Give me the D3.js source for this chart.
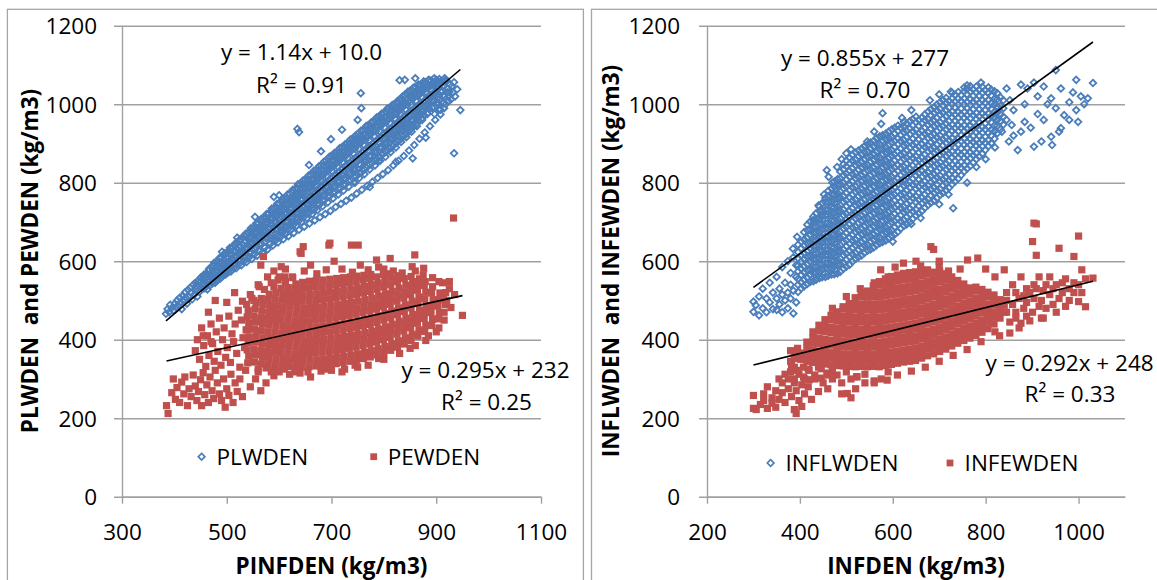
<!DOCTYPE html>
<html><head><meta charset="utf-8">
<script src="https://cdn.jsdelivr.net/npm/d3@7/dist/d3.min.js"></script>
<style>body{margin:0;background:#fff}svg text{font-family:'Open Sans',sans-serif;fill:#000}</style>
</head><body><svg id="c" width="1157" height="580"></svg>
<script>
// ---------- tick labels ----------
const yTicks=[0,200,400,600,800,1000,1200];
const leftXTicks=[300,500,700,900,1100];
const rightXTicks=[200,400,600,800,1000];
// ---------- series names ----------
const leftNames=["PLWDEN","PEWDEN"];
const rightNames=["INFLWDEN","INFEWDEN"];
// ---------- trendline fits (from the chart's equations) ----------
const leftSlopes=[1.14,0.295], leftIntercepts=[10.0,232];
const rightSlopes=[0.855,0.292], rightIntercepts=[277,248];
const leftEq=["y = 1.14x + 10.0","y = 0.295x + 232"], leftR2=["R² = 0.91","R² = 0.25"];
const rightEq=["y = 0.855x + 277","y = 0.292x + 248"], rightR2=["R² = 0.70","R² = 0.33"];
// ---------- data: rows of [x, y1, y2, ...] ----------
const plwden=[[384,466],[387,478],[390,470],[392,489],[395,481],[398,474],[401,492],[403,483],[405,500],[408,486],[410,507],[412,495],[414,478],[416,512],[418,498],[420,520],[422,507],[424,492],[426,527],[428,509],[430,532],[432,519],[434,503],[436,540],[438,515],[440,545],[441,536],[442,528],[444,510],[446,550],[448,522],[450,558],[451,548],[452,540],[454,530],[456,565],
[458,531],[460,566],[462,552],[464,540],[466,580],[461,558],[463,528],[468,538],[470,585],[472,563],[474,550],[476,596],[471,572],[473,544],[478,545],[480,598],[482,575],[484,560],[486,608],[481,585],[483,552],[488,556],[490,610],[492,586],[494,570],[496,620],[491,596],[493,563],[489,578],
[498,566],[500,622],[502,596],[504,580],[506,634],[501,608],[503,572],[499,588],[508,574],[510,634],[512,606],[514,590],[516,645],[511,618],[513,582],[509,598],[515,626],[518,582],[520,646],[522,618],[524,600],[526,657],[521,630],[523,592],[519,610],[525,638],
[528,590],[530,660],[532,628],[534,610],[536,670],[531,642],[533,600],[529,620],[535,650],[538,598],[540,672],[542,640],[544,620],[546,684],[541,655],[543,610],[539,632],[545,664],
[548,606],[550,684],[552,652],[554,630],[556,696],[551,666],[553,618],[549,642],[555,676],[547,660],[558,614],[560,697],[562,662],[564,640],[566,708],[561,678],[563,626],[559,652],[565,688],[557,670],
[568,622],[570,710],[572,674],[574,650],[576,720],[571,690],[573,635],[569,663],[575,700],[567,682],[578,630],[580,722],[582,686],[584,660],[586,734],[581,702],[583,644],[579,674],[585,712],[577,694],[587,655],
[588,640],[590,735],[592,698],[594,670],[596,746],[591,715],[593,652],[589,686],[595,724],[587,706],[597,664],[598,648],[600,746],[602,708],[604,680],[606,758],[601,726],[603,662],[599,696],[605,736],[597,716],[607,674],
[608,656],[610,760],[612,720],[614,690],[616,770],[611,738],[613,670],[609,707],[615,748],[607,728],[617,682],[618,664],[620,772],[622,732],[624,700],[626,782],[621,750],[623,680],[619,718],[625,760],[617,740],[627,692],
[628,672],[630,784],[632,744],[634,712],[636,796],[631,762],[633,690],[629,730],[635,772],[627,752],[637,702],[638,680],[640,796],[642,756],[644,722],[646,806],[641,774],[643,700],[639,742],[645,784],[637,764],[647,712],
[648,688],[650,808],[652,768],[654,734],[656,818],[651,786],[653,710],[649,752],[655,796],[647,776],[657,722],[658,696],[660,820],[662,780],[664,744],[666,830],[661,798],[663,720],[659,764],[665,808],[657,788],[667,732],[661,754],
[668,704],[670,832],[672,792],[674,756],[676,842],[671,810],[673,730],[669,776],[675,820],[667,800],[677,744],[671,766],[678,712],[680,844],[682,804],[684,768],[686,854],[681,822],[683,740],[679,788],[685,832],[677,812],[687,756],[681,778],
[688,720],[690,856],[692,816],[694,778],[696,866],[691,834],[693,750],[689,798],[695,844],[687,824],[697,766],[691,790],[698,728],[700,868],[702,828],[704,790],[706,876],[701,846],[703,760],[699,810],[705,856],[697,836],[707,776],[701,800],
[708,738],[710,878],[712,840],[714,800],[716,888],[711,858],[713,770],[709,822],[715,866],[707,848],[717,786],[711,812],[718,746],[720,890],[722,852],[724,812],[726,898],[721,870],[723,780],[719,834],[725,878],[717,860],[727,796],[721,822],
[728,754],[730,900],[732,862],[734,822],[736,910],[731,880],[733,790],[729,844],[735,890],[727,870],[737,806],[731,834],[738,762],[740,912],[742,874],[744,834],[746,920],[741,892],[743,800],[739,856],[745,900],[737,882],[747,816],[741,846],
[748,772],[750,924],[752,886],[754,846],[756,932],[751,904],[753,812],[749,866],[755,912],[747,894],[757,826],[751,856],[758,782],[760,934],[762,896],[764,856],[766,944],[761,914],[763,822],[759,878],[765,924],[757,904],[767,838],[761,868],
[768,792],[770,946],[772,908],[774,868],[776,954],[771,926],[773,834],[769,890],[775,936],[767,916],[777,850],[771,880],[778,802],[780,956],[782,918],[784,878],[786,966],[781,936],[783,844],[779,900],[785,946],[777,928],[787,860],[781,890],
[788,812],[790,968],[792,930],[794,890],[796,976],[791,948],[793,856],[789,912],[795,958],[787,940],[797,872],[791,902],[798,822],[800,978],[802,940],[804,900],[806,988],[801,958],[803,866],[799,924],[805,968],[797,950],[807,882],[801,912],
[808,832],[810,990],[812,952],[814,912],[816,998],[811,970],[813,878],[809,934],[815,980],[807,960],[817,894],[811,922],[818,844],[820,1000],[822,962],[824,924],[826,1008],[821,980],[823,890],[819,946],[825,990],[817,972],[827,906],[821,934],
[828,856],[830,1012],[832,974],[834,936],[836,1020],[831,992],[833,904],[829,958],[835,1002],[827,984],[837,918],[831,946],[838,868],[840,1024],[842,986],[844,948],[846,1032],[841,1004],[843,916],[839,970],[845,1014],[837,996],[847,930],[841,958],
[848,882],[850,1034],[852,998],[854,960],[856,1042],[851,1016],[853,930],[849,980],[855,1024],[847,1006],[857,944],[851,970],[858,896],[860,1044],[862,1008],[864,972],[866,1050],[861,1026],[863,944],[859,990],[865,1034],[857,1016],[867,958],[861,982],
[868,912],[870,1050],[872,1018],[874,984],[876,1058],[871,1034],[873,960],[869,1000],[875,1042],[867,1024],[877,972],[878,928],[880,1056],[882,1028],[884,996],[886,1062],[881,1042],[883,975],[879,1010],[885,1048],[877,1036],[887,988],
[888,944],[890,1060],[892,1036],[894,1008],[896,1066],[891,1048],[893,990],[889,1020],[895,1054],[897,975],[898,960],[900,1062],[902,1042],[904,1018],[906,1064],[901,1052],[903,1000],[899,1030],[905,986],
[908,974],[910,1058],[912,1044],[914,1024],[916,1066],[911,1034],[913,1002],[915,990],[918,1000],[920,1060],[922,1040],[924,1020],[926,1050],[921,1030],[923,1008],[928,1012],[930,1046],[932,1030],[934,1056],[936,1020],
[455,538,553,561],[465,548,563,575],[475,557,570,588],[485,566,581,597],[495,575,593,605,616],[505,586,601,617,628],[515,594,613,627,641],[525,604,623,639,653],[535,616,633,652,665],[545,625,646,661,677],
[555,637,655,673,687],[565,646,668,683,701],[575,658,677,697,711],[585,667,691,707,727],[595,678,699,719,737],[605,687,713,729,751],[615,699,721,743,761],[625,707,734,752,775],[635,719,743,765,785],[645,727,756,775,797],
[655,741,765,788,807],[665,749,777,797,821],[675,761,785,811,831],[685,769,798,820,843],[695,781,807,833,853],[705,791,819,843,867],[715,803,829,855,877],[725,811,841,865,889],[735,823,851,878,899],[745,831,863,887,911],
[755,845,873,901,921],[765,853,885,909,935],[775,865,895,923,945],[785,875,907,931,957],[795,887,917,945,967],[805,897,929,955,979],[815,909,939,967,989],[825,919,951,977,1001],[835,931,961,991,1011],[845,941,975,999,1025],
[855,956,985,1013,1035],[865,967,997,1021,1047],[875,981,1007,1035,1053],[885,991,1021,1043,1061],[895,1005,1029,1051],[905,1011,1041,1057],[915,1019,1047],[925,1031],
[603,675,690],[613,686,700],[623,695,712],[633,706,722],[643,716,732],[653,726,744],[663,736,754],[673,746,764],[683,755,775],[693,764,786],[703,774,796],[713,784,806],[723,794,818],[733,804,828],[743,814,838],[753,824,848],
[763,834,860],[773,846,870],[783,856,882],[793,866,892],[803,878,904],[813,888,916],[823,900,928],[833,912,940],[843,924,950],[853,938,962],[863,950,976],[873,964,988],[883,976,1000],[893,990,1012],[903,1004,1026],
[756,1028],[757,990],[699,911],[657,845],[590,764],[554,713],[491,624],[773,789],[855,862],[934,875],[823,853],[908,986],[946,985],[635,937],[638,929],[830,1061],[840,1062],[860,1066],[750,960],[720,935],[680,880],[940,1038],[918,1062],[880,915],[790,855],[745,800],[600,768],[520,660]];

const pewden=[[385,232],[388,212],[395,265],[398,300],[402,248],[405,278],[410,240],[414,292],[418,262],[420,305],[425,232],[428,275],[432,255],[436,310],[440,282],[443,245],[446,268],[450,298],[452,232],[455,316],[458,260],[462,285],[465,240],[468,305],[472,270],[475,250],[478,322],[482,290],[486,262],[490,245],[494,300],[497,228],[500,275],[504,258],[508,312],[512,240],[516,290],[520,268],[525,300],[530,255],[536,322],[545,280],[555,300],[565,270],[575,290],[560,318],[585,318],[590,308],
[440,372],[444,400],[448,350],[452,430],[456,385],[460,332],[463,410],[466,360],[470,440],[473,390],[476,345],[480,420],[483,370],[486,455],[489,335],[492,400],[495,430],[498,355],[501,380],[504,460],[507,342],[510,415],[513,395],[516,440],[519,365],[522,475],[525,330],[528,450],[531,405],[534,380],[537,425],[465,470],[478,500],[500,495],[515,520],[470,395],[455,410],
[540,341],[542,358],[539,374],[541,392],[543,407],[540,425],[542,441],[539,458],[541,474],
[553,343],[555,361],[552,376],[554,394],[556,410],[553,427],[555,445],[552,460],[554,478],[556,494],
[566,338],[568,355],[565,372],[567,389],[569,405],[566,423],[568,440],[565,456],[567,473],[569,490],[566,505],
[579,336],[581,352],[578,370],[580,386],[582,403],[579,420],[581,437],[578,454],[580,470],[582,487],[579,503],[581,516],
[592,335],[594,351],[591,368],[593,385],[595,402],[592,419],[594,436],[591,452],[593,469],[595,486],[592,503],[594,520],
[605,334],[607,350],[604,367],[606,384],[608,400],[605,417],[607,434],[604,451],[606,468],[608,484],[605,501],[607,517],[604,531],
[618,332],[620,349],[617,366],[619,383],[621,399],[618,416],[620,433],[617,450],[619,466],[621,483],[618,500],[620,516],[617,533],
[631,330],[633,347],[630,364],[632,381],[634,398],[631,414],[633,431],[630,448],[632,465],[634,482],[631,498],[633,515],[630,532],[632,542],
[644,330],[646,347],[643,364],[645,380],[647,397],[644,414],[646,431],[643,448],[645,464],[647,481],[644,498],[646,514],[643,531],[645,546],
[657,331],[659,348],[656,365],[658,381],[660,398],[657,415],[659,432],[656,448],[658,465],[660,482],[657,499],[659,515],[656,532],[658,549],
[670,333],[672,349],[669,366],[671,383],[673,400],[670,416],[672,433],[669,450],[671,467],[673,483],[670,500],[672,517],[669,534],[671,551],
[683,335],[685,351],[682,368],[684,385],[686,401],[683,418],[685,435],[682,452],[684,468],[686,485],[683,502],[685,519],[682,535],[684,552],
[696,337],[698,353],[695,370],[697,387],[699,403],[696,420],[698,437],[695,454],[697,470],[699,487],[696,504],[698,521],[695,537],[697,554],
[709,339],[711,356],[708,372],[710,389],[712,406],[709,422],[711,439],[708,456],[710,473],[712,489],[709,506],[711,523],[708,540],[710,556],
[722,342],[724,358],[721,375],[723,392],[725,408],[722,425],[724,442],[721,459],[723,475],[725,492],[722,509],[724,526],[721,542],[723,558],
[735,345],[737,361],[734,378],[736,395],[738,411],[735,428],[737,445],[734,462],[736,478],[738,495],[735,512],[737,529],[734,545],[736,560],
[748,348],[750,364],[747,381],[749,398],[751,414],[748,431],[750,448],[747,465],[749,481],[751,498],[748,515],[750,532],[747,548],[749,562],
[761,352],[763,368],[760,385],[762,402],[764,418],[761,435],[763,452],[760,469],[762,485],[764,502],[761,519],[763,536],[760,552],[762,564],
[774,356],[776,372],[773,389],[775,406],[777,422],[774,439],[776,456],[773,473],[775,489],[777,506],[774,523],[776,540],[773,556],[775,566],
[787,361],[789,377],[786,394],[788,411],[790,427],[787,444],[789,461],[786,478],[788,494],[790,511],[787,528],[789,545],[786,560],
[800,367],[802,383],[799,400],[801,417],[803,433],[800,450],[802,467],[799,484],[801,500],[803,517],[800,534],[802,551],[799,566],
[813,373],[815,389],[812,406],[814,423],[816,439],[813,456],[815,473],[812,490],[814,506],[816,523],[813,540],[815,557],[812,568],
[826,381],[828,397],[825,414],[827,431],[829,447],[826,464],[828,481],[825,498],[827,514],[829,531],[826,548],[828,563],
[839,389],[841,405],[838,422],[840,439],[842,455],[839,472],[841,489],[838,506],[840,522],[842,539],[839,556],
[852,398],[854,414],[851,431],[853,448],[855,464],[852,481],[854,498],[851,515],[853,531],[855,548],[852,561],
[865,409],[867,425],[864,442],[866,459],[868,475],[865,492],[867,509],[864,526],[866,542],[868,555],
[878,421],[880,437],[877,454],[879,471],[881,487],[878,504],[880,521],[877,538],[879,548],
[891,436],[893,452],[890,469],[892,486],[894,502],[891,519],[893,535],
[904,453],[906,469],[903,486],[905,502],[907,519],[915,470],[917,490],[914,505],[918,520],
[565,590],[570,612],[578,560],[590,575],[600,560],[604,586],[611,560],[612,580],[625,560],[640,624],[646,637],[642,620],[648,575],[660,590],[672,568],[690,578],[697,646],[695,641],[705,600],[720,580],[738,641],[751,641],[740,572],[755,590],[770,578],[786,603],[790,585],[812,607],[800,580],[818,575],[835,570],[854,586],[859,616],[876,582],[860,575],[875,565],[893,558],[905,548],[925,548],[933,710],[950,462],[562,535],[590,535],[530,498],[545,515],
[548,505],[560,540],[572,528],[585,545],[598,552],[612,548],[626,558],[538,490],[552,500],[920,500],[925,530],[928,482],[935,515],[912,545],
[600,318],[620,312],[640,315],[660,305],[680,320],[700,322],[725,325],[750,330],[770,335],[800,350],[830,365],[860,385],[885,410],[900,420],[610,325],[575,328],[720,318],[655,318],
[560,325],[590,322],[630,318],[690,325],[745,335],[790,352],[850,378],[880,398],[905,430],[915,450]];

const inflwden=[[300,471,497],[305,488],[312,462,510],[320,480,530],[328,470,505],[335,495,545],[342,478,520],[350,476,560,505],[356,490,530],[362,515,470,585],[368,500,545],[374,520,600,480],[380,540,505,570],[386,467,525,610],[392,495,560,590],
[396,522,540,555,574,589,608,623,642],
[409,536,553,572,587,606,621,640,655,674],
[422,547,565,580,599,614,633,648,667,682,701],
[435,553,571,586,605,620,639,654,673,688,707,722],
[448,559,578,593,612,627,646,661,680,695,714,729,748],
[461,563,581,596,615,630,649,664,683,698,717,732,751,766,779],
[474,567,586,601,620,635,654,669,688,703,722,737,756,771,790,803],
[487,573,592,607,626,641,660,675,694,709,728,743,762,777,796,811,828],
[500,586,604,619,638,653,672,687,706,721,740,755,774,789,808,823,842,856],
[513,599,618,633,652,667,686,701,720,735,754,769,788,803,822,837,856,871],
[526,610,629,644,663,678,697,712,731,746,765,780,799,814,833,848,867,882],
[539,621,640,655,674,689,708,723,742,757,776,791,810,825,844,859,878,893],
[552,630,649,664,683,698,717,732,751,766,785,800,819,834,853,868,887,902],
[565,641,660,675,694,709,728,743,762,777,796,811,830,845,864,879,898,913],
[578,649,668,683,702,717,736,751,770,785,804,819,838,853,872,887,906,921],
[591,658,677,692,711,726,745,760,779,794,813,828,847,862,881,896,915,930],
[604,668,687,702,721,736,755,770,789,804,823,838,857,872,891,906,925,940],
[617,683,702,717,736,751,770,785,804,819,838,853,872,887,906,921,940],
[630,694,713,728,747,762,781,796,815,830,849,864,883,898,917,932,951],
[643,708,727,742,761,776,795,810,829,844,863,878,897,912,931,946,962],
[656,722,741,756,775,790,809,824,843,858,877,892,911,926,945,960],
[669,736,755,770,789,804,823,838,857,872,891,906,925,940,959,974],
[682,749,768,783,802,817,836,851,870,885,904,919,938,953,972,987],
[695,761,780,795,814,829,848,863,882,897,916,931,950,965,984,999],
[708,774,793,808,827,842,861,876,895,910,929,944,963,978,997,1011],
[721,787,806,821,840,855,874,889,908,923,942,957,976,991,1008],
[734,803,822,837,856,871,890,905,924,939,958,973,992,1007,1024],
[747,819,838,853,872,887,906,921,940,955,974,989,1008,1023],
[760,836,855,870,889,904,923,938,957,972,991,1006,1025,1039],
[773,851,870,885,904,919,938,953,972,987,1006,1021,1038],
[786,867,886,901,920,935,954,969,988,1003,1022,1037],
[799,883,902,917,936,951,970,985,1004,1019,1036],
[812,901,920,935,954,969,988,1003,1022,1037],
[825,926,945,960,979,994,1013,1028],
[838,948,968,990,1010],
[403,531,546,565,580,599,614,633,650],
[416,542,558,577,592,611,626,645,660,679,693],
[429,549,569,584,603,618,637,652,671,686,705,714],
[442,557,573,592,607,626,641,660,675,694,709,728,739],
[455,560,580,595,614,629,648,663,682,697,716,731,750,761],
[468,566,582,601,616,635,650,669,684,703,718,737,752,771,785],
[481,569,589,604,623,638,657,672,691,706,725,740,759,774,793,809],
[494,581,596,615,630,649,664,683,698,717,732,751,766,785,800,819,834,847],
[507,591,611,626,645,660,679,694,713,728,747,762,781,796,815,830,849,863],
[520,606,621,640,655,674,689,708,723,742,757,776,791,810,825,844,859,877],
[533,615,634,649,668,683,702,717,736,751,770,785,804,819,838,853,872,887],
[546,627,642,661,676,695,710,729,744,763,778,797,812,831,846,865,880,898],
[559,635,654,669,688,703,722,737,756,771,790,805,824,839,858,873,892,907],
[572,646,661,680,695,714,729,748,763,782,797,816,831,850,865,884,899,918],
[585,653,672,687,706,721,740,755,774,789,808,823,842,857,876,891,910,925],
[598,664,679,698,713,732,747,766,781,800,815,834,849,868,883,902,917,936],
[611,675,694,709,728,743,762,777,796,811,830,845,864,879,898,913,932,945],
[624,690,705,724,739,758,773,792,807,826,841,860,875,894,909,928,943,955],
[637,700,719,734,753,768,787,802,821,836,855,870,889,904,923,938,957],
[650,716,731,750,765,784,799,818,833,852,867,886,901,920,935,954,968],
[663,728,747,762,781,796,815,830,849,864,883,898,917,932,951,966],
[676,743,758,777,792,811,826,845,860,879,894,913,928,947,962,981],
[689,754,773,788,807,822,841,856,875,890,909,924,943,958,977,992],
[702,769,784,803,818,837,852,871,886,905,920,939,954,973,988,1005],
[715,780,799,814,833,848,867,882,901,916,935,950,969,984,1003,1016],
[728,796,811,830,845,864,879,898,913,932,947,966,981,1000,1015,1029],
[741,810,829,844,863,878,897,912,931,946,965,980,999,1014,1031],
[754,829,844,863,878,897,912,931,946,965,980,999,1014,1033,1043],
[767,843,862,877,896,911,930,945,964,979,998,1013,1032,1046],
[780,860,875,894,909,928,943,962,977,996,1011,1030,1045],
[793,874,893,908,927,942,961,976,995,1010,1029,1044],
[806,893,908,927,942,961,976,995,1010,1029,1043],
[819,912,931,946,965,980,999,1014,1033],
[832,936,956,974,996,1017],
[385,632],[394,662],[430,700],[440,742],[452,770],[458,832],[462,815],[470,800],[480,840],[490,860],[500,875],[510,885],[545,905],[560,930],[575,950],[578,977],[620,965],[640,985],[680,1010],[700,1025],[725,1032],[760,1048],[790,1055],
[600,650],[640,695],[660,710],[700,745],[720,770],[730,735],[760,800],[780,840],[800,860],[820,890],[835,930],[850,905],
[845,1040,960],[852,1010],[856,947],[860,985,920],[869,883],[876,930,1050],[884,1000,955],[890,1040],[897,940],[904,892,1055],[912,975,1020],[920,905],[925,960,1045],[933,1000],[941,917,1015],[943,896],[951,1087,990],[958,930],[962,939,1040],[969,972],[980,960,1005],[988,1030],[995,1062,985],[999,955],[1005,1020],[1012,1000],[1020,1015],[1031,1054]];

const infewden=[[300,225,258],[306,222],[315,235],[322,262,245],[330,225,280],[340,252,238],[348,270,228],[355,300,248],[362,265,290],[368,240,312],[375,300,275],[382,255,335],[388,222,290],[392,212,270],[398,245,312],[404,230,285],[410,262,300],[418,325,280],[425,248],[432,300],[440,268,330],[450,290],[460,275,310],[470,300],[480,310],[490,262,290],[500,318],[510,252,300],[522,305],[540,290,312],[560,295],[575,300],[590,318],
[380,318,345,372],[388,300,330,362],[395,322,352,378],[408,305,330],[420,298,322],[432,310],[446,302,326],[458,315],[470,308,322],
[402,350,366],
[415,345,361,379,394],
[428,342,359,374,391,405,420],
[441,340,357,371,390,403,422,437],
[454,338,355,370,387,401,420,434,451],
[467,336,353,367,386,399,418,431,450,462],
[480,334,351,366,383,398,415,430,448,462,471],
[493,333,350,364,382,396,414,429,446,460,478,484],
[506,332,349,363,381,395,413,427,445,459,477,492],
[519,331,348,362,380,394,412,426,444,458,476,490,507],
[532,332,349,363,381,395,413,427,445,459,477,491,509,518],
[545,331,348,362,380,394,412,426,444,458,476,490,508,524],
[558,332,349,363,381,395,413,427,445,459,477,491,509,523,537],
[571,331,348,362,380,394,412,426,444,458,476,490,508,522,540,548],
[584,334,351,365,383,397,415,429,447,461,479,493,511,525,543,555],
[597,337,354,368,386,400,418,432,450,464,482,496,514,528,546,561],
[610,340,357,371,389,403,421,435,453,467,485,499,517,531,549,565],
[623,343,360,374,392,406,424,438,456,470,488,502,520,534,552,569],
[636,345,362,376,394,408,426,440,458,472,490,504,522,536,554,571],
[649,347,364,378,396,410,428,442,460,474,492,506,524,538,556,573],
[662,353,370,384,402,416,434,448,466,480,498,512,530,544,562,576],
[675,359,376,390,408,422,440,454,472,486,504,518,536,550,568,578],
[688,364,381,395,413,427,445,459,477,491,509,523,541,555,572],
[701,370,387,401,419,433,451,465,483,497,515,529,547,561,575],
[714,376,393,407,425,439,457,471,489,503,521,535,553,568],
[727,384,401,415,433,447,465,479,497,511,529,543,560],
[740,391,408,422,440,454,472,486,504,518,536,551],
[753,398,415,429,447,461,479,493,511,525,542],
[766,404,421,435,453,467,485,499,517,532],
[779,411,428,442,460,474,492,506,524,534],
[792,419,436,450,468,482,500,514,528],
[805,428,445,459,477,491,509,521],
[818,440,457,471,489,503,514],
[831,455,472,486,502],
[840,470,488],
[574,578],[590,560],[605,585],[623,595],[640,570],[660,588],[682,637],[688,630],[700,590],[720,575],[745,580],[761,603],[783,608],[800,580],[820,560],[840,578],[650,600],[560,545],[530,530],[500,510],[470,480],[700,600],
[523,306],[588,297],[502,263],[520,275],[560,290],[610,310],[640,320],[670,330],[700,345],[730,360],[760,375],[790,395],[820,420],[830,410],
[845,470,500,520],[852,417,445],[858,490,540],[865,455,520,470],[872,430,505],[876,442,560],[882,480,512],[888,460,530,495],[895,520,448],[901,650,470],[904,697,505,540],[909,695,615,530],[915,485,560],[920,500,455],[924,455,525],[930,540,480],[938,515,560],[945,490,530],[952,540,470],[958,633,505],[965,520,545],[972,485,555],[980,500,530],[990,612,545,520],[1000,664,497,540],[1007,578,520],[1015,484,555],[1031,557]];

// ---------- drawing ----------
const flat=rows=>rows.flatMap(([x,...ys])=>ys.map(y=>[x,y]));
const svg=d3.select('#c');
const FONT="'Open Sans',sans-serif";
const GRID='#a0a0a0', BLUE='#4A7EBB', RED='#C0504D';
const yScale=d3.scaleLinear().domain([0,1200]).range([496.7,25.7]);
const diamond="M0,-3.3L3.3,0L0,3.3L-3.3,0Z";
const S=7.2;

function drawPanel(cfg){
  const x=d3.scaleLinear().domain(cfg.xDomain).range([cfg.x0,cfg.x1]);
  const g=svg.append('g');
  g.append('rect').attr('x',cfg.bx).attr('y',9.3).attr('width',cfg.bw).attr('height',640)
    .attr('fill','none').attr('stroke','#a6a6a6').attr('stroke-width',1.3);
  const w=cfg.x1-cfg.x0;
  const ya=g.append('g').attr('transform',`translate(${cfg.x0},0)`)
    .call(d3.axisLeft(yScale).tickValues(yTicks).tickSizeInner(-w).tickSizeOuter(0).tickFormat(d3.format('d')));
  ya.attr('font-size',null).attr('font-family',null);
  ya.select('.domain').attr('stroke',GRID).attr('stroke-width',1.4);
  ya.selectAll('.tick line').attr('x1',-8).attr('x2',w).attr('stroke',GRID).attr('stroke-width',1.4);
  ya.selectAll('.tick text').attr('x',-cfg.labGap).attr('dy','0.36em')
    .style('font-size','22.5px').style('font-family',FONT).attr('fill','#000');
  const xa=g.append('g').attr('transform',`translate(0,${yScale(0)})`)
    .call(d3.axisBottom(x).tickValues(cfg.xTicks).tickSizeInner(7).tickSizeOuter(0).tickFormat(d3.format('d')));
  xa.attr('font-size',null).attr('font-family',null);
  xa.select('.domain').attr('stroke',GRID).attr('stroke-width',1.4);
  xa.selectAll('.tick line').attr('stroke',GRID).attr('stroke-width',1.4);
  xa.selectAll('.tick text').attr('y',35).attr('dy','0.36em')
    .style('font-size','22.5px').style('font-family',FONT).attr('fill','#000');

  const [blueRows,redRows]=cfg.series;
  const bp=flat(blueRows), rp=flat(redRows);
  g.append('g').selectAll('path').data(bp).join('path').attr('d',diamond)
    .attr('transform',d=>`translate(${x(d[0])},${yScale(d[1])})`)
    .attr('fill','none').attr('stroke',BLUE).attr('stroke-width',1.8);
  g.append('g').selectAll('rect').data(rp).join('rect')
    .attr('x',d=>x(d[0])-S/2).attr('y',d=>yScale(d[1])-S/2).attr('width',S).attr('height',S)
    .attr('fill',RED);
  [bp,rp].forEach((pts,i)=>{
    const [lo,hi]=d3.extent(pts,d=>d[0]);
    const m=cfg.slopes[i], b=cfg.intercepts[i];
    g.append('line').attr('x1',x(lo)).attr('y1',yScale(m*lo+b)).attr('x2',x(hi)).attr('y2',yScale(m*hi+b))
      .attr('stroke','#000').attr('stroke-width',1.6);
  });
  cfg.eqPos.forEach((p,i)=>{
    g.append('text').attr('x',p[0]).attr('y',p[1]).attr('dy','0.36em').attr('text-anchor','middle')
      .style('font-size','22.5px').text(cfg.eq[i]);
    g.append('text').attr('x',p[2]).attr('y',p[3]).attr('dy','0.36em').attr('text-anchor','middle')
      .style('font-size','22.5px').text(cfg.r2[i]);
  });
  const L=cfg.legend;
  g.append('path').attr('d',diamond).attr('transform',`translate(${L[0]},${L[4]})`)
    .attr('fill','none').attr('stroke',BLUE).attr('stroke-width',1.7);
  g.append('text').attr('x',L[1]).attr('y',L[4]).attr('dy','0.36em').style('font-size','22.5px').text(cfg.names[0]);
  g.append('rect').attr('x',L[2]-3.4).attr('y',L[4]-3.4).attr('width',6.8).attr('height',6.8).attr('fill',RED);
  g.append('text').attr('x',L[3]).attr('y',L[4]).attr('dy','0.36em').style('font-size','22.5px').text(cfg.names[1]);
  g.append('text').attr('x',(cfg.x0+cfg.x1)/2).attr('y',566).attr('dy','0.36em').attr('text-anchor','middle')
    .style('font-size','22.5px').style('font-weight','bold').text(cfg.xTitle);
  g.append('text').attr('transform',`translate(${cfg.yTitleX},261) rotate(-90)`).attr('dy','0.36em')
    .attr('text-anchor','middle').style('font-size','22.5px').style('font-weight','bold')
    .style('white-space','pre').text(cfg.yTitle);
}

drawPanel({xDomain:[300,1100],xTicks:leftXTicks,x0:122,x1:541,bx:7.4,bw:576,labGap:25,
  series:[plwden,pewden],names:leftNames,slopes:leftSlopes,intercepts:leftIntercepts,eq:leftEq,r2:leftR2,
  eqPos:[[301.5,52,301.5,85],[485.5,370,486.5,402]],legend:[201.6,216.4,373.7,387.7,456.7],
  xTitle:'PINFDEN (kg/m3)',yTitle:'PLWDEN  and PEWDEN (kg/m3)',yTitleX:29.6});
drawPanel({xDomain:[200,1100],xTicks:rightXTicks,x0:707,x1:1125,bx:591.5,bw:600,labGap:27,
  series:[inflwden,infewden],names:rightNames,slopes:rightSlopes,intercepts:rightIntercepts,eq:rightEq,r2:rightR2,
  eqPos:[[865,58,865,90],[1069.6,363,1070,394]],legend:[770.6,785.4,950,964.6,463],
  xTitle:'INFDEN (kg/m3)',yTitle:'INFLWDEN  and INFEWDEN (kg/m3)',yTitleX:611});
</script></body></html>
